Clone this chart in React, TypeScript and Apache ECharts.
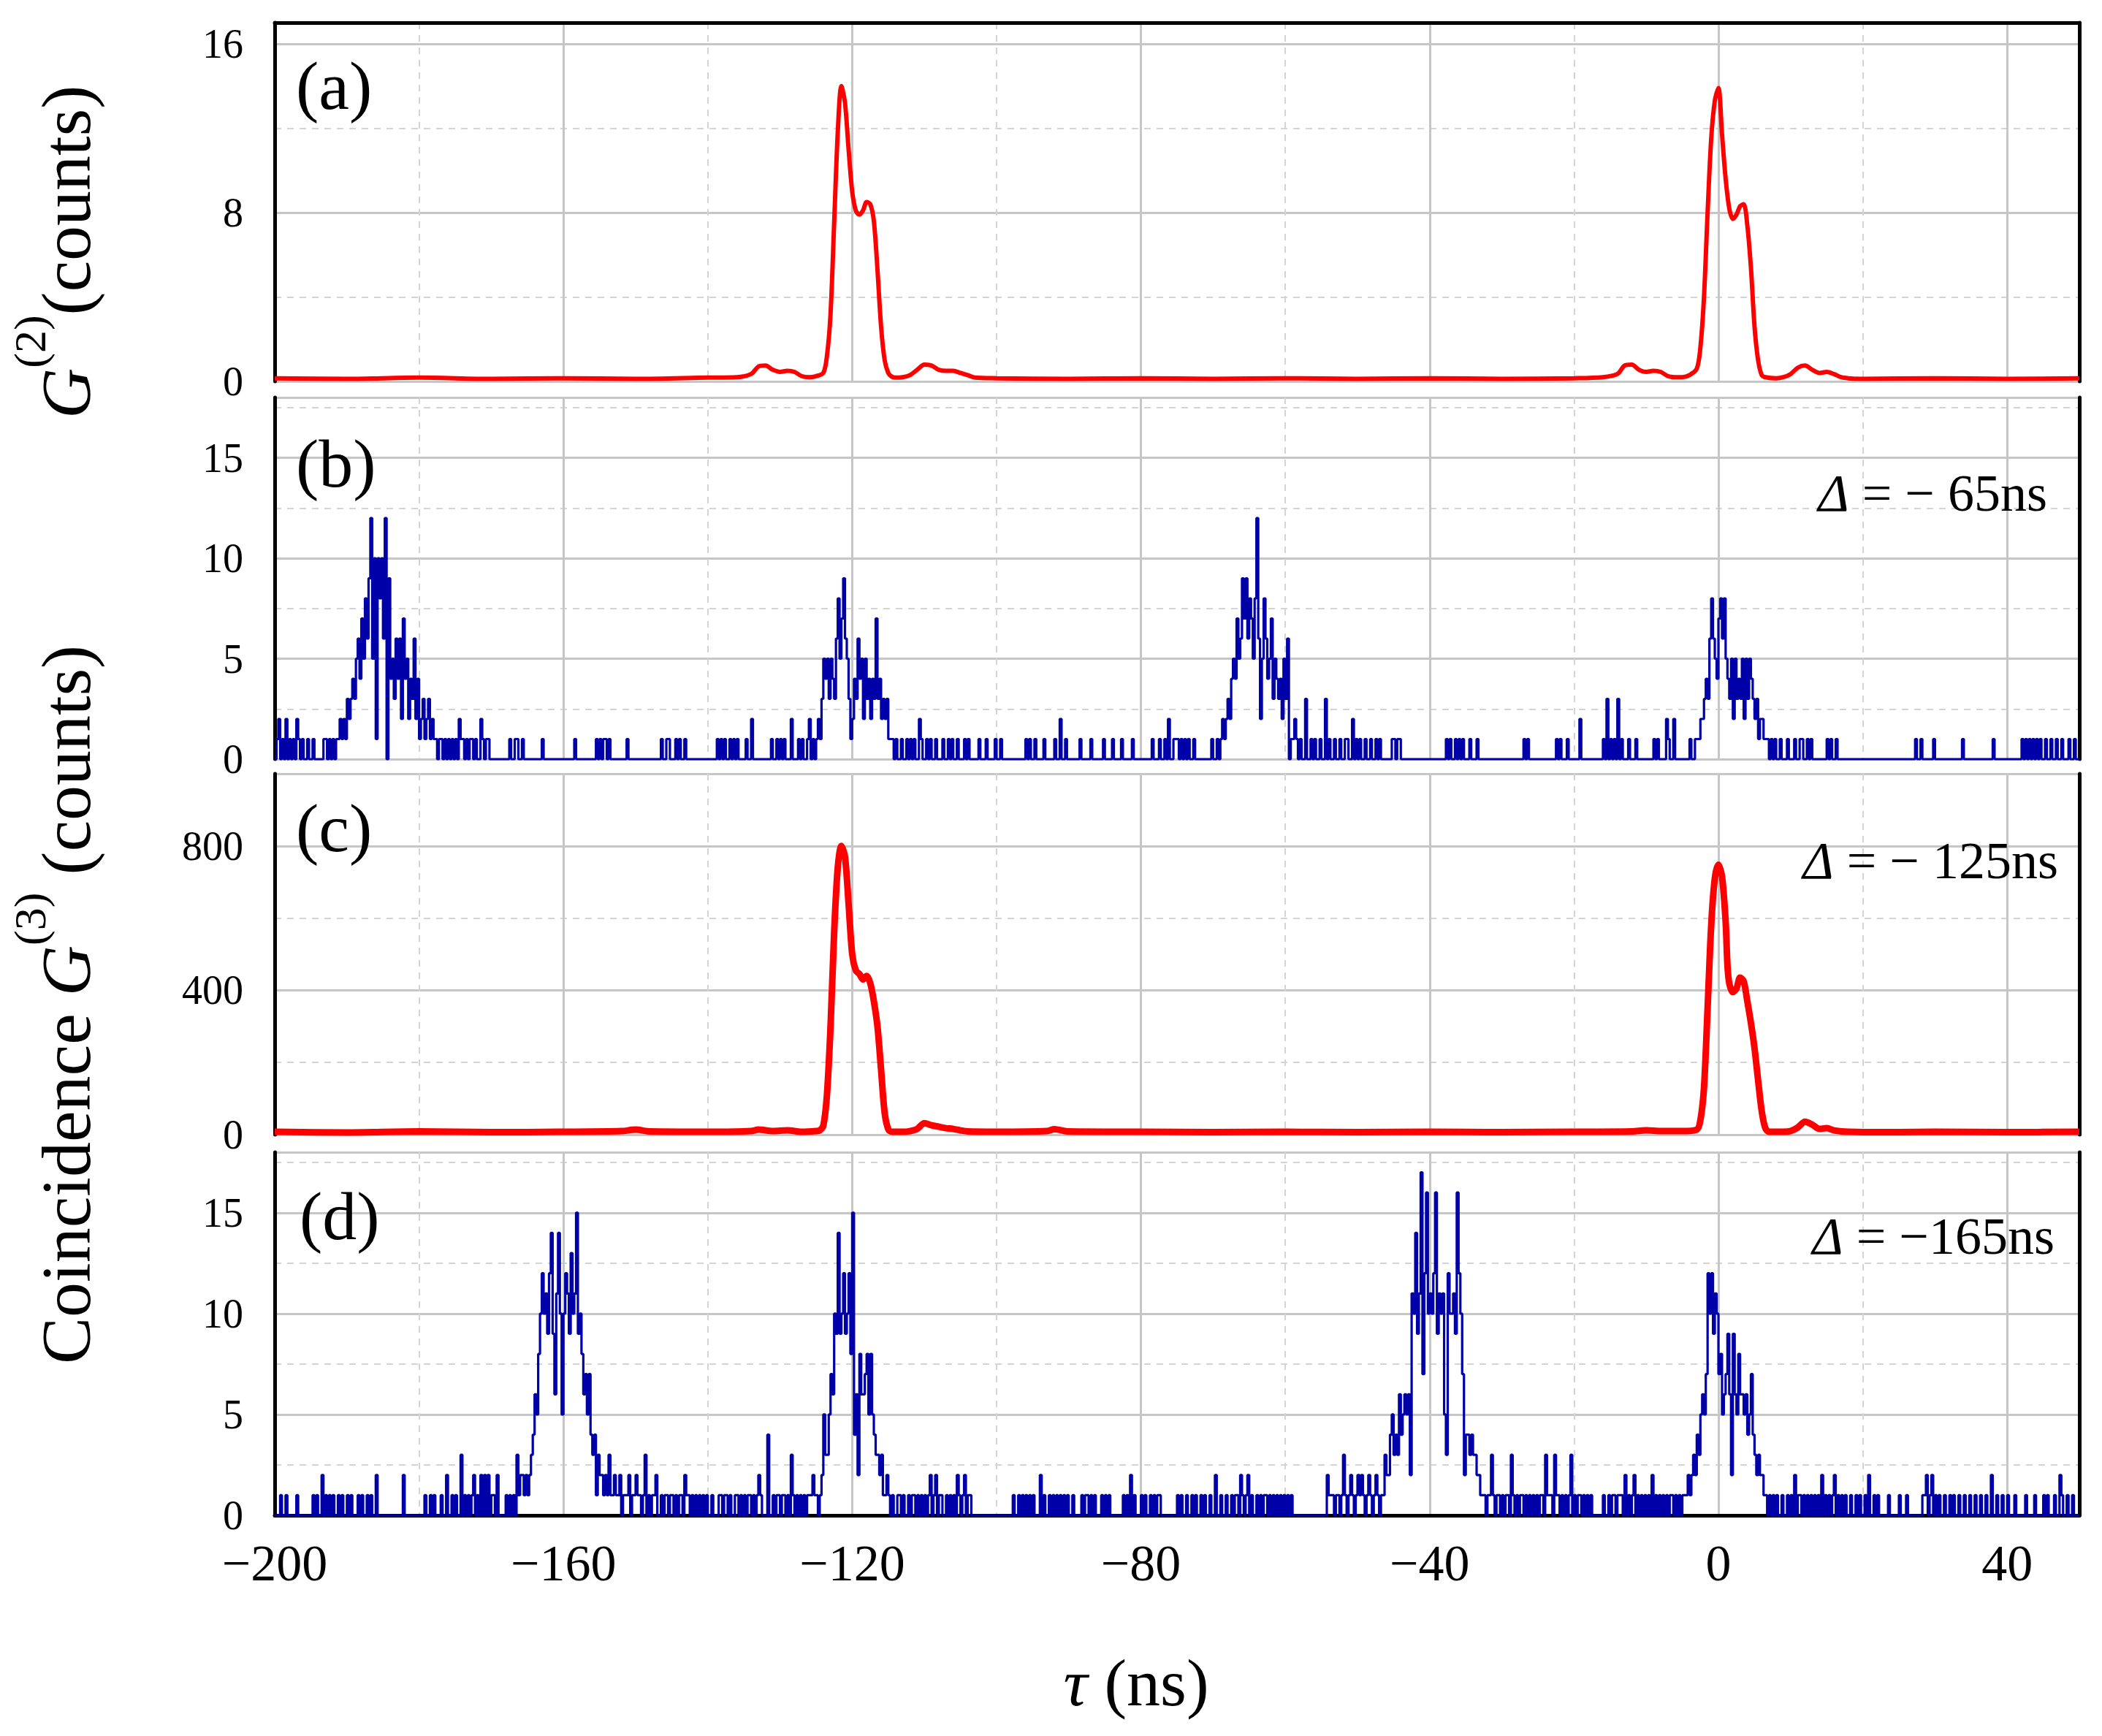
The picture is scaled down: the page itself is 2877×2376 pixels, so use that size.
import React, { useEffect, useRef } from "react";
import * as echarts from "echarts";

const FONT = "'Liberation Serif', 'Times New Roman', serif";
const XMIN = -200;
const XMAX = 50;
const BIN = 0.25;

// tick labels
const xTickLabels = [-200, -160, -120, -80, -40, 0, 40];
const aYLabels = [0, 8, 16];
const bYLabels = [0, 5, 10, 15];
const cYLabels = [0, 400, 800];
const dYLabels = [0, 5, 10, 15];

// panel (a): G2 counts, [tau, value]
const aPoints = [
  [-200, 0.15], [-190, 0.12], [-180, 0.18], [-170, 0.12], [-160, 0.15], [-150, 0.12], [-140, 0.18],
  [-136, 0.2], [-134, 0.35], [-133, 0.7], [-132, 0.75], [-131, 0.55], [-130, 0.45], [-129, 0.5],
  [-128, 0.45], [-127, 0.25], [-126, 0.2], [-125, 0.25], [-124, 0.4], [-123.5, 1.2], [-123, 3.2],
  [-122.5, 7.5], [-122, 11.8], [-121.5, 14.0], [-121, 13.2], [-120.5, 11.0], [-120, 9.0],
  [-119.5, 8.1], [-119, 7.9], [-118.5, 8.1], [-118, 8.5], [-117.5, 8.4], [-117, 7.6], [-116.5, 5.3],
  [-116, 2.6], [-115.5, 1.0], [-115, 0.4], [-114.5, 0.22], [-114, 0.18], [-113, 0.2], [-112, 0.3],
  [-111, 0.55], [-110, 0.8], [-109, 0.75], [-108, 0.55], [-107, 0.5], [-106, 0.5], [-105, 0.4],
  [-104, 0.3], [-103, 0.18], [-100, 0.15], [-90, 0.12], [-80, 0.15], [-70, 0.12], [-60, 0.15],
  [-50, 0.12], [-40, 0.15], [-30, 0.12], [-20, 0.15], [-16, 0.2], [-14, 0.35], [-13, 0.75],
  [-12, 0.8], [-11, 0.55], [-10, 0.45], [-9, 0.5], [-8, 0.45], [-7, 0.25], [-6, 0.2], [-5, 0.2],
  [-4, 0.3], [-3, 0.6], [-2.5, 1.6], [-2, 4.0], [-1.5, 8.0], [-1, 11.5], [-0.5, 13.3], [0, 13.9],
  [0.5, 11.7], [1, 9.6], [1.5, 8.2], [2, 7.7], [2.5, 7.9], [3, 8.3], [3.5, 8.4], [4, 7.4],
  [4.5, 5.4], [5, 2.6], [5.5, 1.0], [6, 0.3], [6.5, 0.2], [8, 0.15], [9, 0.2], [10, 0.35],
  [11, 0.65], [12, 0.75], [13, 0.55], [14, 0.4], [15, 0.45], [16, 0.35], [17, 0.2], [18, 0.15],
  [20, 0.12], [30, 0.15], [40, 0.12], [50, 0.15],
];

// panel (c): G3 counts, [tau, value]
const cPoints = [
  [-200, 8], [-190, 6], [-180, 9], [-170, 7], [-160, 8], [-152, 10], [-150, 14], [-148, 9],
  [-140, 8], [-134, 10], [-133, 14], [-131, 10], [-129, 12], [-127, 8], [-125, 10],
  [-124.5, 12], [-124, 25], [-123.5, 110], [-123, 300], [-122.5, 560], [-122, 740], [-121.5, 800],
  [-121, 770], [-120.5, 640], [-120, 500], [-119.5, 455], [-119, 445], [-118.5, 430], [-118, 440],
  [-117.5, 420], [-117, 370], [-116.5, 300], [-116, 180], [-115.5, 60], [-115, 15], [-114.5, 8],
  [-113, 8], [-112, 10], [-111, 16], [-110, 32], [-109, 26], [-108, 22], [-107, 18], [-106, 16],
  [-105, 12], [-104, 9], [-100, 8], [-93, 10], [-92, 15], [-90, 9], [-80, 8], [-70, 7], [-60, 8],
  [-50, 7], [-40, 8], [-30, 7], [-20, 8], [-12, 9], [-10, 12], [-8, 10], [-5, 10], [-3, 14],
  [-2.5, 40], [-2, 130], [-1.5, 350], [-1, 580], [-0.5, 710], [0, 748], [0.5, 715], [1, 590],
  [1.25, 470], [1.5, 420], [2, 395], [2.5, 405], [3, 435], [3.5, 425], [4, 370], [4.5, 310],
  [5, 240], [5.5, 150], [6, 65], [6.5, 18], [7, 8], [9, 8], [10, 10], [11, 20], [12, 36],
  [13, 28], [14, 16], [15, 18], [16, 12], [18, 8], [25, 7], [30, 8], [40, 7], [50, 8],
];

// panel (b): coincidence counts, Δ = −65 ns (0.25 ns bins)
const bPeakStarts = [-192, -125, -69, -3];
const bPeak1 = [1, 0, 1, 1, 2, 1, 2, 1, 3, 2, 3, 4, 3, 5, 6, 4, 7, 5, 8, 6, 9, 12, 5, 10, 1, 10, 8, 10, 6, 12, 0, 9, 4, 5, 3, 6, 4, 6, 2, 7, 4, 5, 2, 4, 3, 6, 2, 4, 1, 2, 3, 1, 2, 3, 1, 2, 1];
const bPeak2 = [1, 2, 1, 3, 5, 4, 5, 3, 5, 4, 3, 6, 8, 5, 7, 9, 6, 5, 3, 1, 2, 4, 3, 6, 4, 5, 2, 5, 3, 4, 2, 4, 3, 7, 3, 4, 2, 3, 2, 3, 1];
const bPeak3 = [1, 2, 1, 2, 3, 2, 4, 5, 4, 7, 5, 6, 9, 7, 9, 6, 8, 7, 5, 8, 12, 6, 2, 5, 8, 6, 4, 5, 7, 3, 5, 4, 3, 4, 2, 5, 3, 6, 0, 1, 1, 2, 1];
const bPeak4 = [1, 1, 2, 2, 3, 4, 3, 6, 8, 6, 5, 4, 7, 8, 6, 8, 5, 4, 3, 5, 2, 5, 3, 4, 3, 5, 2, 5, 3, 5, 4, 3, 2, 3, 1, 2, 2, 1, 1];
const bOnes = [
  -199.75, -199, -198, -197.5, -196.75, -196.25, -195.5, -194.75, -193.25, -193, -192.5,
  -177.75, -177.25, -177, -176.5, -176, -175.5, -175, -174.25, -174, -173.5, -173, -172.75, -172.25, -171.25, -170.75, -170.5,
  -167.5, -166.75, -166.5, -165.75, -163, -158.5, -155.5, -155, -154.5, -154.25, -153.75, -151.25, -146.5, -145.75, -145.5,
  -144.5, -144, -143.25, -138.75, -138.25, -137.75, -137, -136.5, -136, -134.75, -131.25, -130.5, -130, -129.5, -127.5, -127,
  -126.25, -125.5,
  -114.75, -114.5, -114, -113.25, -112.5, -112, -111.5, -110.5, -109.75, -109.25, -108.5, -107.5, -106.75, -106.25, -105.5,
  -104.5, -104, -102.5, -101.5, -100.25, -99.5, -96, -95.5, -94.75, -93.5, -92, -90.5, -88.5, -87, -85.25, -84, -82.75, -81.25,
  -78.5, -77.5, -76.75, -75.5, -75.25, -75, -74.5, -74, -73.5, -72.75, -70.25, -69.5,
  -58, -56.5, -56, -55.25, -54, -53.25, -52.5, -51.75, -51.5, -50.25, -49.75, -49, -48.25, -47.5, -47, -45.25, -45, -44.5,
  -44.25, -37.75, -37.25, -36.5, -36, -35.5, -34.5, -33.5, -27, -26.5, -22.5, -22, -21, -16, -15, -14.5, -13.5, -12.5, -11.5,
  -9, -8.5, -7, -4, -3.25,
  6.75, 7.25, 7.75, 8.5, 9.5, 10.5, 11.25, 11.5, 12.25, 12.75, 15, 15.5, 16.25, 27.25, 28, 29.75, 33.75, 38, 42, 42.5, 43, 43.5,
  44, 44.5, 45.25, 46, 46.75, 47.5, 48.5, 49.25,
];
const bTwos = [-199.5, -198.5, -197, -174.5, -171.5, -134, -128.5, -126, -110.75, -91.25, -76.25, -50.75, -19.25, -7.25, -6.25];
const bThrees = [-57.25, -54.5, -15.5, -14];

// panel (d): coincidence counts, Δ = −165 ns (0.25 ns bins)
const dPeakStarts = [-166.5, -124.5, -46.5, -4.5];
const dPeak1 = [3, 1, 2, 2, 1, 2, 1, 2, 3, 4, 6, 5, 8, 10, 12, 10, 11, 9, 12, 14, 9, 6, 11, 14, 10, 5, 10, 12, 11, 9, 13, 10, 11, 15, 9, 10, 8, 6, 7, 5, 7, 4, 3, 4, 1, 3, 2, 2, 1, 2, 1, 3, 1, 1, 2, 1];
const dPeak2 = [1, 2, 5, 3, 3, 5, 7, 6, 10, 9, 14, 9, 10, 12, 9, 10, 12, 8, 15, 4, 6, 2, 8, 6, 6, 7, 8, 5, 8, 5, 4, 3, 3, 2, 3, 1, 1, 2];
const dPeak3 = [1, 3, 2, 2, 4, 5, 3, 4, 3, 6, 4, 5, 6, 5, 6, 2, 11, 10, 14, 9, 11, 17, 7, 12, 16, 10, 11, 10, 12, 16, 9, 11, 10, 11, 5, 3, 12, 10, 10, 11, 9, 16, 12, 10, 7, 2, 4, 4, 3, 4, 3, 3, 2, 2, 1];
const dPeak4 = [1, 2, 1, 2, 3, 2, 4, 3, 5, 6, 5, 7, 12, 10, 12, 9, 11, 10, 7, 8, 5, 6, 7, 9, 6, 2, 9, 6, 5, 8, 6, 6, 5, 6, 4, 5, 7, 4, 3, 2, 3, 2, 2, 1, 1];
const dOnes = [
  -199.25, -198.5, -197, -194.75, -194.25, -193, -192.5, -192, -191.25, -190.75, -190, -189.5, -188.5, -188, -187.25, -186.75,
  -179.25, -178.5, -178, -177, -175.5, -175, -173.75, -173.25, -172.75, -172, -170, -169.75, -168, -167.5, -167,
  -152.5, -151.75, -151.5, -151.25, -150.5, -150.25, -149.75, -149.5, -149, -148.25, -147.75, -147.5, -146.5, -146, -145.75,
  -145.25, -145, -144.5, -144, -143.75, -143, -142.75, -142.25, -141.75, -141.25, -140.75, -140.25, -139.5, -138.5, -138.25,
  -137.75, -137.5, -137, -136.25, -136, -135.5, -135, -134.5, -134.25, -133.75, -133.25, -132.75, -131, -130.5, -130.25,
  -129.75, -129.5, -129, -128.25, -127.75, -127.25, -126.75, -126.25, -126, -125.75, -125.25, -125,
  -115, -114.5, -113.75, -113.5, -113, -112.25, -111.75, -111.5, -111, -110.5, -110, -109.5, -108.75, -108, -107.75, -107,
  -106.5, -106, -105.25, -104.75, -104, -103.75, -97.75, -97, -96.5, -96, -95.5, -95, -93.5, -92.75, -92.25, -91.75, -91.25,
  -90.75, -90.25, -89.5, -88.25, -87.75, -87.5, -87, -86.5, -85.5, -85, -84.5, -82.5, -82, -81, -80, -79.5, -78.75, -78.25,
  -77.75, -77.5,
  -75, -74.5, -73.75, -73, -72.5, -71.75, -71.25, -70.5, -69, -68.25, -67.5, -67, -66.75, -66, -65.5, -64.75, -64, -63.5, -63,
  -62.75, -62.25, -61.75, -61.25, -60.75, -60.25, -59.75, -59.25, -54, -53.75, -53.5, -53, -52.75, -52.25, -51.75, -51.25,
  -50.75, -50.25, -49.75, -49.25, -48.75, -48.25, -47.75, -47.25, -46.75,
  -32.75, -32.5, -32, -31.75, -31.25, -30.75, -30.5, -30, -29.5, -29.25, -28.5, -28, -27.5, -27.25, -26.75, -26.25, -25.75,
  -25.25, -24.75, -24.5, -23.75, -23.5, -23.25, -22.5, -22.25, -21.75, -21.25, -20.75, -20, -19.5, -19.25, -18.75, -18.25,
  -17.75, -16, -15.25, -14.75, -14.5, -14, -13.75, -13.5, -12.5, -12, -11.25, -10.75, -10.25, -9.75, -8.75, -8.25, -7.75,
  -7.25, -6.75, -6.5, -6, -5.5, -5, -4.75,
  7, 7.5, 8, 8.75, 9.5, 10, 11, 11.25, 11.75, 12.25, 12.75, 13.25, 13.75, 14.75, 15.25, 15.75, 16.5, 17, 17.5, 18.25, 19, 19.5,
  20.25, 21.5, 22, 23.5, 25, 26, 28.25, 28.5, 29.25, 30, 30.5, 31.25, 32, 32.5, 33.25, 34, 34.75, 35.5, 36.25, 37, 38.5, 39.25,
  40, 41, 42.5, 43.75, 45, 45.5, 46.5, 47.5, 48.25, 49,
];
const dTwos = [
  -193.5, -186, -182.25, -176.25, -172.5, -171.5, -171, -170.5, -169.25, -152.25, -151, -150, -147.25, -143.25, -133, -125.5,
  -109.25, -108.5, -105.5, -104.5, -94, -81.5, -69.75, -66.25, -65.25, -54.25, -51, -50, -49.5, -48.5, -47.5, -13, -11.75,
  -9.25, 10.5, 14.25, 16, 20.75, 28.75, 29.5, 37.75, 47.25,
];
const dThrees = [-174.25, -148.75, -128.5, -52, -31.5, -28.75, -24, -22.75, -20.5];
const dFours = [-131.75];

function buildHist(starts: number[], peaks: number[][], levels: number[][]) {
  const n = Math.round((XMAX - XMIN) / BIN);
  const counts = new Array(n).fill(0);
  levels.forEach((arr, li) =>
    arr.forEach((t) => {
      const i = Math.round((t - XMIN) / BIN);
      if (i >= 0 && i < n) counts[i] = Math.max(counts[i], li + 1);
    })
  );
  peaks.forEach((vals, k) => {
    const i0 = Math.round((starts[k] - XMIN) / BIN);
    vals.forEach((v, j) => {
      const i = i0 + j;
      if (i >= 0 && i < n) counts[i] = v;
    });
  });
  const data = counts.map((c, i) => [XMIN + i * BIN, c]);
  data.push([XMAX, counts[n - 1]]);
  return data;
}

const fmtNum = (v: number) => (v < 0 ? "\u2212" + Math.abs(v) : String(v));

export default function App() {
  const ref = useRef<HTMLDivElement>(null);
  useEffect(() => {
    document.body.style.margin = "0";
    document.body.style.overflow = "hidden";
    if (!ref.current) return;
    const chart = echarts.init(ref.current, null, { renderer: "svg" });

    const grids = [
      { top: 31, height: 491 },
      { top: 544, height: 495 },
      { top: 1059, height: 494 },
      { top: 1577, height: 497 },
    ];
    const yMax = [17, 18, 1000, 18];
    const yMajor = [8, 5, 400, 5];
    const yMinor = [4, 2.5, 200, 2.5];
    const yLabels = [aYLabels, bYLabels, cYLabels, dYLabels];

    const black = { color: "#000", width: 5 };
    const solidGrid = { show: true, lineStyle: { color: "#c6c6c6", width: 3 } };
    const dashGrid = { show: true, lineStyle: { color: "#d4d4d4", width: 2, type: [9, 8] } };

    const xAxis: any[] = [];
    const yAxis: any[] = [];
    grids.forEach((g, gi) => {
      xAxis.push({
        type: "value", gridIndex: gi, min: XMIN, max: XMAX, interval: 20, position: "top",
        axisLine: { show: gi === 0, onZero: false, lineStyle: black },
        axisTick: { show: false }, axisLabel: { show: false }, splitLine: dashGrid,
      });
      xAxis.push({
        type: "value", gridIndex: gi, min: XMIN, max: XMAX, interval: 40, position: "bottom",
        axisLine: { show: gi === 3, onZero: false, lineStyle: black },
        axisTick: { show: false },
        axisLabel: {
          show: gi === 3, fontFamily: FONT, fontSize: 70, color: "#000", margin: 30,
          formatter: (v: number) => (xTickLabels.includes(v) ? fmtNum(v) : ""),
        },
        splitLine: solidGrid,
      });
      yAxis.push({
        type: "value", gridIndex: gi, min: 0, max: yMax[gi], interval: yMinor[gi], position: "right",
        axisLine: { show: true, onZero: false, lineStyle: black },
        axisTick: { show: false }, axisLabel: { show: false }, splitLine: dashGrid,
      });
      yAxis.push({
        type: "value", gridIndex: gi, min: 0, max: yMax[gi], interval: yMajor[gi], position: "left",
        axisLine: { show: true, onZero: false, lineStyle: black },
        axisTick: { show: false },
        axisLabel: {
          fontFamily: FONT, fontSize: 56, color: "#000", margin: 43,
          formatter: (v: number) => (yLabels[gi].includes(v) ? String(v) : ""),
        },
        splitLine: solidGrid,
      });
    });

    const bData = buildHist(bPeakStarts, [bPeak1, bPeak2, bPeak3, bPeak4], [bOnes, bTwos, bThrees]);
    const dData = buildHist(dPeakStarts, [dPeak1, dPeak2, dPeak3, dPeak4], [dOnes, dTwos, dThrees, dFours]);

    const red = "#ff0000";
    const blue = "#0000a8";

    const series: any[] = [
      { type: "line", xAxisIndex: 1, yAxisIndex: 1, data: aPoints, smooth: 0.3, showSymbol: false, symbol: "none",
        clip: false, lineStyle: { color: red, width: 6 } },
      { type: "line", xAxisIndex: 3, yAxisIndex: 3, data: bData, step: "end", showSymbol: false, symbol: "none",
        clip: false, lineStyle: { color: blue, width: 3.2 } },
      { type: "line", xAxisIndex: 5, yAxisIndex: 5, data: cPoints, smooth: 0.3, showSymbol: false, symbol: "none",
        clip: false, lineStyle: { color: red, width: 9 } },
      { type: "line", xAxisIndex: 7, yAxisIndex: 7, data: dData, step: "end", showSymbol: false, symbol: "none",
        clip: false, lineStyle: { color: blue, width: 3.2 } },
    ];

    const panelLabel = (t: string, x: number, y: number) => ({
      type: "text", x, y, z: 10,
      style: { text: t, fontFamily: FONT, fontSize: 94, fill: "#000", align: "left", verticalAlign: "middle" },
    });
    const deltaLabel = (t: string, x: number, y: number) => ({
      type: "text", x, y, z: 10,
      style: {
        text: t, fill: "#000", align: "right", verticalAlign: "middle",
        rich: {
          d: { fontFamily: FONT, fontSize: 72, fontStyle: "italic", fill: "#000" },
          n: { fontFamily: FONT, fontSize: 72, fill: "#000" },
        },
      },
    });
    const yTitleRich = {
      n: { fontFamily: FONT, fontSize: 96, lineHeight: 160, fill: "#000" },
      g: { fontFamily: FONT, fontSize: 96, fontStyle: "italic", lineHeight: 160, fill: "#000" },
      s: { fontFamily: FONT, fontSize: 62, lineHeight: 76, verticalAlign: "top", fill: "#000" },
    };

    const graphic: any[] = [
      panelLabel("(a)", 405, 117),
      panelLabel("(b)", 405, 634),
      panelLabel("(c)", 405, 1133),
      panelLabel("(d)", 410, 1664),
      deltaLabel("{d|\u0394}{n| = \u2212 65ns}", 2802, 675),
      deltaLabel("{d|\u0394}{n| = \u2212 125ns}", 2817, 1178),
      deltaLabel("{d|\u0394}{n| = \u2212165ns}", 2812, 1692),
      {
        type: "text", x: 1555, y: 2303,
        style: {
          text: "{t|\u03c4}{n| (ns)}", align: "center", verticalAlign: "middle", fill: "#000",
          rich: {
            t: { fontFamily: FONT, fontSize: 92, fontStyle: "italic", fill: "#000" },
            n: { fontFamily: FONT, fontSize: 92, fill: "#000" },
          },
        },
      },
      {
        type: "text", x: 90, y: 345, rotation: Math.PI / 2,
        style: { text: "{g|G}{s|(2)}{n|(counts)}", align: "center", verticalAlign: "middle", fill: "#000", rich: yTitleRich },
      },
      {
        type: "text", x: 90, y: 1375, rotation: Math.PI / 2,
        style: { text: "{n|Coincidence }{g|G}{s|(3)}{n| (counts)}", align: "center", verticalAlign: "middle", fill: "#000", rich: yTitleRich },
      },
    ];

    chart.setOption({
      animation: false,
      backgroundColor: "#ffffff",
      grid: grids.map((g) => ({ left: 376, right: 31, top: g.top, height: g.height, containLabel: false })),
      xAxis,
      yAxis,
      series,
      graphic,
    });
    return () => chart.dispose();
  }, []);
  return <div ref={ref} style={{ width: 2877, height: 2376 }} />;
}
